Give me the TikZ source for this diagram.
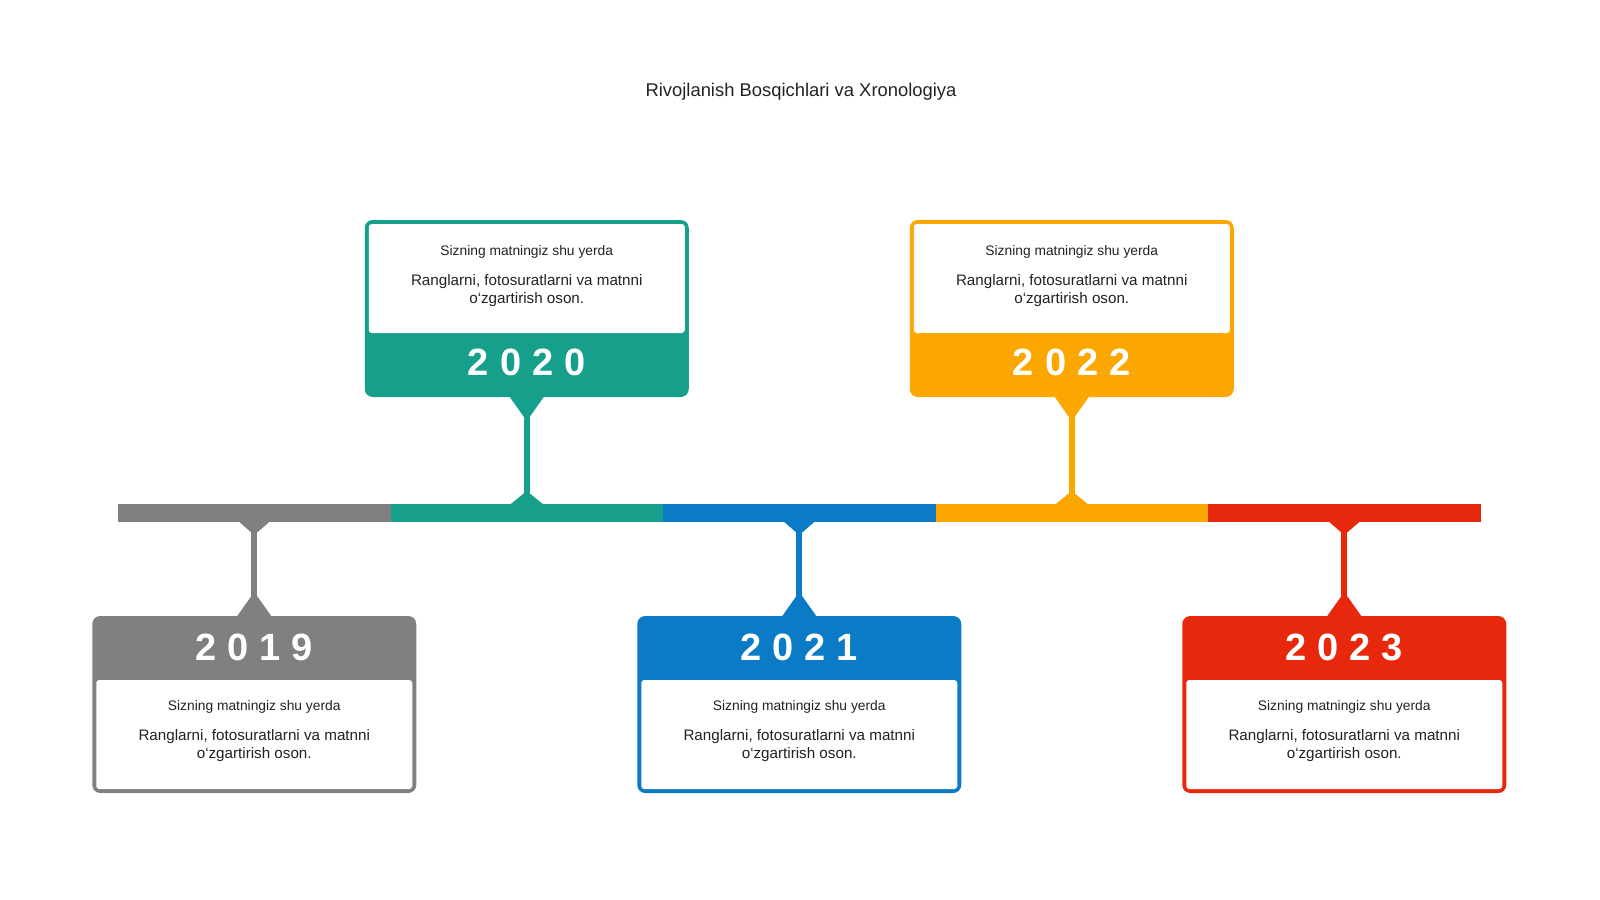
\documentclass[tikz,border=0pt]{standalone}
\usepackage{fontspec}
\setmainfont{Liberation Sans}
\usepackage{tikz}
\usetikzlibrary{positioning}
\definecolor{grayc}{HTML}{808080}
\definecolor{tealc}{HTML}{16A08C}
\definecolor{bluec}{HTML}{0B7BC5}
\definecolor{orangec}{HTML}{FCA600}
\definecolor{redc}{HTML}{E8280C}
\definecolor{inkc}{HTML}{222222}
\newcommand{\yeardigits}[4]{#1\kern11pt#2\kern11pt#3\kern11pt#4}
\newcommand{\cardtext}{{\fontsize{13.8}{16}\selectfont Sizning matningiz shu yerda}\\[11pt]Ranglarni, fotosuratlarni va matnni\\o‘zgartirish oson.}

\begin{document}
\begin{tikzpicture}[x=1pt,y=1pt]
                \tikzstyle{every node}+=[inner sep=0pt, outer sep=0pt]
                \tikzstyle{card}=[rectangle, rounded corners=8pt, minimum width=324pt, minimum height=177pt]
                \tikzstyle{pane}=[rectangle, fill=white, rounded corners=3pt, minimum width=316pt, minimum height=109pt]
                \tikzstyle{segment}=[rectangle, minimum width=272.5pt, minimum height=18pt]
                \tikzstyle{yearlabel}=[text=white, font=\fontsize{38}{40}\selectfont\bfseries]
                \tikzstyle{bodytext}=[align=center, text=inkc, font=\fontsize{15.2}{18.5}\selectfont]
                \useasboundingbox (0,0) rectangle (1600,-899);
                \node [text=inkc, font=\fontsize{18.4}{21}\selectfont] (title) at (801,-92) {Rivojlanish Bosqichlari va Xronologiya};
                \node [segment, fill=grayc] (s2019) at (254.25,-513) {};
                \node [segment, fill=tealc] (s2020) at (526.75,-513) {};
                \node [segment, fill=bluec] (s2021) at (799.25,-513) {};
                \node [segment, fill=orangec] (s2022) at (1071.75,-513) {};
                \node [segment, fill=redc] (s2023) at (1344.25,-513) {};
                \node [card, fill=tealc] (c2020) at (526.75,-308.5) {};
                \node [pane, anchor=north] (p2020) at ([yshift=-4pt]c2020.north) {};
                \node [bodytext] (t2020) at ([yshift=32pt]c2020.center) {\cardtext};
                \node [yearlabel] (y2020) at ([yshift=-53.5pt]c2020.center) {\yeardigits{2}{0}{2}{0}};
                \node [card, fill=orangec] (c2022) at (1071.75,-308.5) {};
                \node [pane, anchor=north] (p2022) at ([yshift=-4pt]c2022.north) {};
                \node [bodytext] (t2022) at ([yshift=32pt]c2022.center) {\cardtext};
                \node [yearlabel] (y2022) at ([yshift=-53.5pt]c2022.center) {\yeardigits{2}{0}{2}{2}};
                \node [card, fill=grayc] (c2019) at (254.25,-704.5) {};
                \node [pane, anchor=south] (p2019) at ([yshift=4pt]c2019.south) {};
                \node [bodytext] (t2019) at ([yshift=-27pt]c2019.center) {\cardtext};
                \node [yearlabel] (y2019) at ([yshift=57.5pt]c2019.center) {\yeardigits{2}{0}{1}{9}};
                \node [card, fill=bluec] (c2021) at (799.25,-704.5) {};
                \node [pane, anchor=south] (p2021) at ([yshift=4pt]c2021.south) {};
                \node [bodytext] (t2021) at ([yshift=-27pt]c2021.center) {\cardtext};
                \node [yearlabel] (y2021) at ([yshift=57.5pt]c2021.center) {\yeardigits{2}{0}{2}{1}};
                \node [card, fill=redc] (c2023) at (1344.25,-704.5) {};
                \node [pane, anchor=south] (p2023) at ([yshift=4pt]c2023.south) {};
                \node [bodytext] (t2023) at ([yshift=-27pt]c2023.center) {\cardtext};
                \node [yearlabel] (y2023) at ([yshift=57.5pt]c2023.center) {\yeardigits{2}{0}{2}{3}};
                \fill [tealc] ([xshift=-17pt]c2020.south) -- ([xshift=17pt]c2020.south) -- ([yshift=-24pt]c2020.south) -- cycle;
                \draw [tealc, line width=6pt] (c2020.south) -- (s2020.north);
                \fill [tealc] ([xshift=-16pt]s2020.north) -- ([xshift=16pt]s2020.north) -- ([yshift=13pt]s2020.north) -- cycle;
                \fill [orangec] ([xshift=-17pt]c2022.south) -- ([xshift=17pt]c2022.south) -- ([yshift=-24pt]c2022.south) -- cycle;
                \draw [orangec, line width=6pt] (c2022.south) -- (s2022.north);
                \fill [orangec] ([xshift=-16pt]s2022.north) -- ([xshift=16pt]s2022.north) -- ([yshift=13pt]s2022.north) -- cycle;
                \fill [grayc] ([xshift=-15pt]s2019.south) -- ([xshift=15pt]s2019.south) -- ([yshift=-13pt]s2019.south) -- cycle;
                \draw [grayc, line width=6pt] (s2019.south) -- (c2019.north);
                \fill [grayc] ([xshift=-17pt]c2019.north) -- ([xshift=17pt]c2019.north) -- ([yshift=24pt]c2019.north) -- cycle;
                \fill [bluec] ([xshift=-15pt]s2021.south) -- ([xshift=15pt]s2021.south) -- ([yshift=-13pt]s2021.south) -- cycle;
                \draw [bluec, line width=6pt] (s2021.south) -- (c2021.north);
                \fill [bluec] ([xshift=-17pt]c2021.north) -- ([xshift=17pt]c2021.north) -- ([yshift=24pt]c2021.north) -- cycle;
                \fill [redc] ([xshift=-15pt]s2023.south) -- ([xshift=15pt]s2023.south) -- ([yshift=-13pt]s2023.south) -- cycle;
                \draw [redc, line width=6pt] (s2023.south) -- (c2023.north);
                \fill [redc] ([xshift=-17pt]c2023.north) -- ([xshift=17pt]c2023.north) -- ([yshift=24pt]c2023.north) -- cycle;
            \end{tikzpicture}
\end{document}
